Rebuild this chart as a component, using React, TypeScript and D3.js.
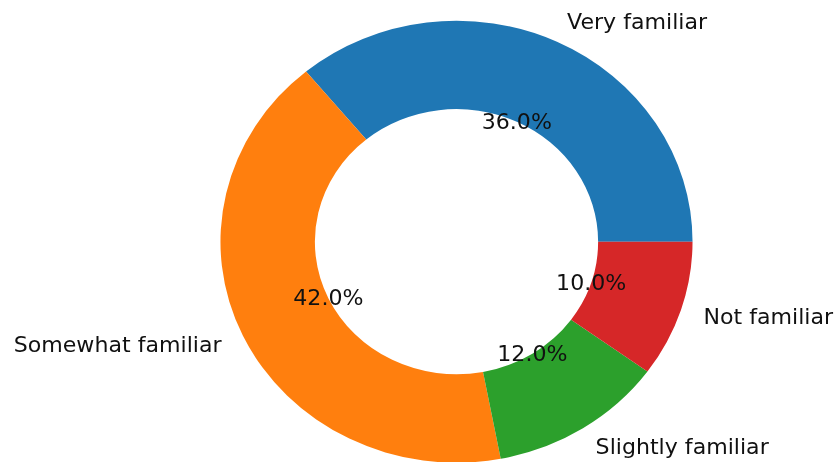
import { useEffect, useRef } from "react";
import * as d3 from "d3";

const categories = ["Very familiar", "Somewhat familiar", "Slightly familiar", "Not familiar"];
const shares = [36, 42, 12, 10];
const colors = ["#1f77b4", "#ff7f0e", "#2ca02c", "#d62728"];

export default function App() {
  const chartRef = useRef<SVGSVGElement>(null);

  useEffect(() => {
    if (!chartRef.current) return;
    d3.select(chartRef.current).selectAll("*").remove();

    const width = 837;
    const height = 462;
    const cx = 456.5;
    const cy = 241.7;
    const r = 221;
    const stretch = 1.068; // picture is a bit wider than tall

    const svg = d3
      .select(chartRef.current)
      .attr("width", width)
      .attr("height", height)
      .attr("viewBox", `0 0 ${width} ${height}`);

    const data = categories.map((c, i) => ({ label: c, value: shares[i], color: colors[i] }));

    // matplotlib style: start at 3 o'clock, go counter-clockwise
    const pie = d3
      .pie<(typeof data)[number]>()
      .value((d) => d.value)
      .sort(null)
      .startAngle(Math.PI / 2)
      .endAngle(Math.PI / 2 - 2 * Math.PI);

    const arcs = pie(data);

    const arc = d3
      .arc<d3.PieArcDatum<(typeof data)[number]>>()
      .innerRadius(r * 0.6)
      .outerRadius(r);

    const g = svg
      .append("g")
      .attr("transform", `translate(${cx},${cy}) scale(${stretch},1)`);

    g.selectAll("path")
      .data(arcs)
      .join("path")
      .attr("d", arc)
      .attr("fill", (d) => d.data.color);

    const pos = (d: d3.PieArcDatum<(typeof data)[number]>, k: number) => {
      const a = (d.startAngle + d.endAngle) / 2;
      return [Math.sin(a) * r * k, -Math.cos(a) * r * k];
    };

    // percentage labels
    g.selectAll(".pct")
      .data(arcs)
      .join("text")
      .attr("class", "pct")
      .attr("x", (d) => pos(d, 0.6)[0])
      .attr("y", (d) => pos(d, 0.6)[1])
      .attr("text-anchor", "middle")
      .attr("dominant-baseline", "central")
      .style("font-family", "DejaVu Sans")
      .style("font-size", "20.7px")
      .style("fill", "#111")
      .text((d) => `${d.data.value.toFixed(1)}%`);

    // category labels
    g.selectAll(".lbl")
      .data(arcs)
      .join("text")
      .attr("class", "lbl")
      .attr("x", (d) => pos(d, 1.1)[0])
      .attr("y", (d) => pos(d, 1.1)[1])
      .attr("text-anchor", (d) => (pos(d, 1)[0] > 0 ? "start" : "end"))
      .attr("dominant-baseline", "central")
      .style("font-family", "DejaVu Sans")
      .style("font-size", "20.7px")
      .style("fill", "#111")
      .text((d) => d.data.label);
  }, []);

  return (
    <div style={{ position: "fixed", left: 0, top: 0 }}>
      <svg ref={chartRef} style={{ display: "block" }}></svg>
    </div>
  );
}
